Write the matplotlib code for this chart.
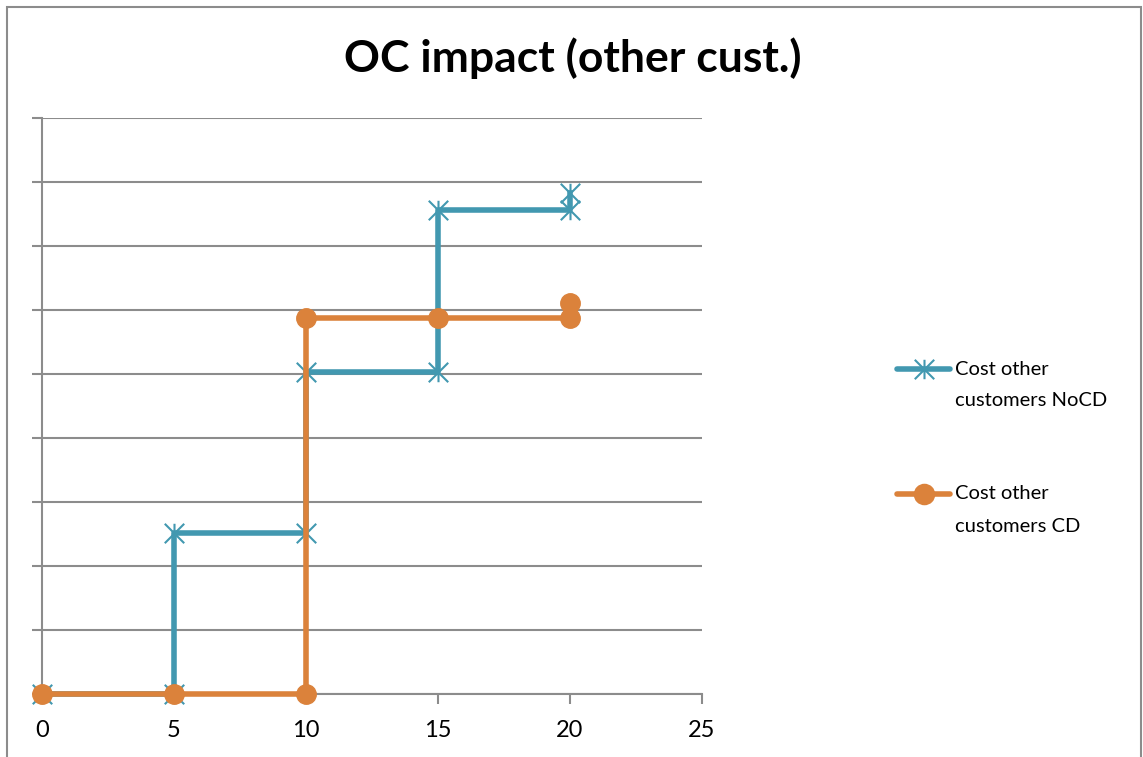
import matplotlib
matplotlib.use("Agg")
import matplotlib.pyplot as plt
from matplotlib.lines import Line2D
from matplotlib.patches import Rectangle
from matplotlib.path import Path

plt.rcParams['font.family'] = ['Lato', 'DejaVu Sans']

# data (y in gridline units, the chart has no y labels)
x_nocd = [0, 5, 5, 10, 10, 15, 15, 20, 20]
y_nocd = [0, 0, 2.52, 2.52, 5.03, 5.03, 7.56, 7.56, 7.83]
x_cd = [0, 5, 10, 10, 15, 20, 20]
y_cd = [0, 0, 0, 5.875, 5.875, 5.875, 6.11]
labels = [["Cost other", "customers NoCD"], ["Cost other", "customers CD"]]
x_ticks = [0, 5, 10, 15, 20, 25]

blue = "#4298B0"
orange = "#DB823B"
grid_c = "#8C8C8C"

# Excel style star: an X with a vertical bar
star = Path([(-1, -1), (1, 1), (-1, 1), (1, -1), (0, -1), (0, 1)],
            [Path.MOVETO, Path.LINETO, Path.MOVETO, Path.LINETO,
             Path.MOVETO, Path.LINETO])

fig = plt.figure(figsize=(11.43, 7.57), dpi=100)
ax = fig.add_axes([42 / 1143, 1 - 694 / 757, 660 / 1143, 576 / 757])

# outer chart border
fig.add_artist(Rectangle((7 / 1143, -0.05), 1134 / 1143, 1.05 - 7 / 757,
                         transform=fig.transFigure, fill=False,
                         edgecolor=grid_c, linewidth=1.5))

ax.plot(x_nocd, y_nocd, color=blue, lw=4, marker=star, clip_on=False,
        markersize=14, markeredgewidth=1.5, markeredgecolor=blue, zorder=3)
ax.plot(x_cd, y_cd, color=orange, lw=4, marker="o", clip_on=False,
        markersize=14, markeredgecolor=orange, zorder=4)

ax.set_xlim(0, 25)
ax.set_ylim(0, 9)
ax.set_xticks(x_ticks)
ax.set_yticks(range(0, 10))
ax.set_yticklabels([])
ax.grid(axis="y", color=grid_c, lw=1.5)
ax.set_axisbelow(True)
for s in ["top", "right"]:
    ax.spines[s].set_visible(False)
for s in ["left", "bottom"]:
    ax.spines[s].set_color(grid_c)
    ax.spines[s].set_linewidth(1.5)
ax.tick_params(axis="x", direction="out", length=7, width=1.5, color=grid_c,
               labelsize=17, pad=12)
ax.tick_params(axis="y", direction="out", length=7, width=1.5, color=grid_c)
for t in ax.get_xticklabels():
    t.set_color("black")

fig.text(573 / 1143, 1 - 58 / 757, "OC impact (other cust.)", ha="center",
         va="center", fontsize=32, fontweight="bold")

# legend
handles = [(blue, star, 14, 369), (orange, "o", 14, 494)]
for (c, m, ms, ypx), lab in zip(handles, labels):
    yf = 1 - ypx / 757
    fig.add_artist(Line2D([897 / 1143, 950 / 1143], [yf, yf], color=c, lw=4,
                          solid_capstyle="round", transform=fig.transFigure))
    fig.add_artist(Line2D([923.5 / 1143], [yf], color=c, marker=m, markersize=ms,
                          markeredgewidth=1.5, markeredgecolor=c,
                          transform=fig.transFigure))
    for i, line in enumerate(lab):
        fig.text(955 / 1143, 1 - (ypx + 32 * i) / 757, line, ha="left",
                 va="center", fontsize=14.5)

fig.savefig("out.png", dpi=100)
